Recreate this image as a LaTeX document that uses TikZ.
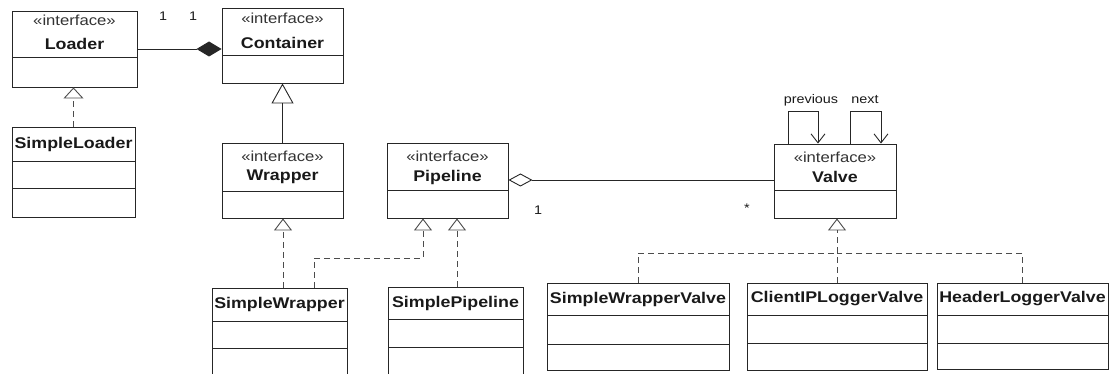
\documentclass[tikz,border=0pt]{standalone}
\usepackage{fontspec}
\setmainfont{Liberation Sans}[FakeStretch=1.15]
\usetikzlibrary{arrows.meta,fit}
\newcommand{\stereofont}{\fontsize{14.5}{15}\selectfont}
\newcommand{\namefont}{\fontsize{15.5}{16}\selectfont\bfseries}
\newcommand{\lblfont}{\fontsize{12.5}{13}\selectfont}
\tikzset{
  box/.style={draw=black!85, line width=0.9pt, inner sep=0pt},
  stereo/.style={font=\stereofont, text=black!80, inner sep=0pt},
  cname/.style={font=\namefont, text=black!90, inner sep=0pt},
  lbl/.style={font=\lblfont, text=black!90, inner sep=0pt},
  divider/.style={draw=black!85, line width=0.9pt},
  realize/.style={draw=black!70, line width=0.9pt, dash pattern=on 6pt off 4pt},
  realtip/.style={-{Triangle[open, length=12pt, width=18pt, line width=0.9pt]}},
  gentip/.style={-{Triangle[open, length=20pt, width=22pt, line width=0.9pt]}},
  assoc/.style={draw=black!85, line width=0.9pt},
}
\begin{document}
\begin{tikzpicture}[x=1pt, y=-1pt]
\useasboundingbox (0,0) rectangle (1112,374);
\clip (0,0) rectangle (1112,374);

% ---------- interface boxes ----------
\node[box, fit={(12,11) (137,87)}] (loader) {};
\draw[divider] (12,57) -- (137,57);
\node[stereo] (loaderS) at (74.5,20) {«interface»};
\node[cname] (loaderN) at (74.5,44) {Loader};

\node[box, fit={(222,8) (343,83)}] (container) {};
\draw[divider] (222,55) -- (343,55);
\node[stereo] (containerS) at (282.5,18) {«interface»};
\node[cname] (containerN) at (282.5,43) {Container};

\node[box, fit={(222,143) (343,218)}] (wrapper) {};
\draw[divider] (222,191) -- (343,191);
\node[stereo] (wrapperS) at (282.5,156) {«interface»};
\node[cname] (wrapperN) at (282.5,177) {Wrapper};

\node[box, fit={(387,143) (508,218)}] (pipeline) {};
\draw[divider] (387,190) -- (508,190);
\node[stereo] (pipelineS) at (447.5,156) {«interface»};
\node[cname] (pipelineN) at (447.5,177) {Pipeline};

\node[box, fit={(774,144) (896,218)}] (valve) {};
\draw[divider] (774,190) -- (896,190);
\node[stereo] (valveS) at (835,157) {«interface»};
\node[cname] (valveN) at (835,177) {Valve};

% ---------- classes ----------
\node[box, fit={(12,127) (135,217)}] (sloader) {};
\draw[divider] (12,161) -- (135,161);
\draw[divider] (12,188) -- (135,188);
\node[cname] (sloaderN) at (73.5,144) {SimpleLoader};

\node[box, fit={(212,288) (347,380)}] (swrap) {};
\draw[divider] (212,321) -- (347,321);
\draw[divider] (212,348) -- (347,348);
\node[cname] (swrapN) at (279.5,304) {SimpleWrapper};

\node[box, fit={(388,287) (523,380)}] (spipe) {};
\draw[divider] (388,319) -- (523,319);
\draw[divider] (388,347) -- (523,347);
\node[cname] (spipeN) at (455.5,303) {SimplePipeline};

\node[box, fit={(547,283) (729,370)}] (swv) {};
\draw[divider] (547,315) -- (729,315);
\draw[divider] (547,344) -- (729,344);
\node[cname] (swvN) at (638,299) {SimpleWrapperValve};

\node[box, fit={(747,283) (927,370)}] (cip) {};
\draw[divider] (747,315) -- (927,315);
\draw[divider] (747,343) -- (927,343);
\node[cname] (cipN) at (837,299) {ClientIPLoggerValve};

\node[box, fit={(937,283) (1108,369)}] (hlv) {};
\draw[divider] (937,315) -- (1108,315);
\draw[divider] (937,343) -- (1108,343);
\node[cname] (hlvN) at (1022.5,299) {HeaderLoggerValve};

% ---------- composition Loader - Container ----------
\draw[assoc, -{Diamond[length=25pt, width=15pt]}] (loader.east |- 0,49) -- (container.west |- 0,49);
\node[lbl] (m1) at (163,16) {1};
\node[lbl] (m2) at (193,16) {1};

% ---------- generalization Wrapper -> Container ----------
\draw[assoc, gentip] (wrapper.north) -- (container.south);

% ---------- realizations ----------
\draw[realize, -{Triangle[open, length=11pt, width=20pt, line width=0.9pt]}] (sloader.north) -- (sloader.north |- loader.south);
\draw[realize, realtip] (swrap.north -| 283,0) -- (wrapper.south -| 283,0);
\coordinate (pj) at (314,258);
\draw[realize, realtip] (swrap.north -| pj) -- (pj) -- (pj -| 423,0) -- (pipeline.south -| 423,0);
\draw[realize, realtip] (spipe.north -| 457,0) -- (pipeline.south -| 457,0);

\coordinate (vj) at (837,253);
\draw[realize, realtip] (cip.north -| vj) -- (valve.south -| vj);
\draw[realize] (swv.north) -- (swv.north |- vj) -- (vj);
\draw[realize] (hlv.north) -- (hlv.north |- vj) -- (vj);

% ---------- aggregation Pipeline - Valve ----------
\draw[assoc, {Diamond[open, length=24pt, width=13pt, line width=0.9pt]}-] (pipeline.east |- 0,180) -- (valve.west |- 0,180);
\node[lbl] (m3) at (538,210) {1};
\node[lbl] (m4) at (747,208) {*};

% ---------- self associations on Valve ----------
\draw[assoc, -{Straight Barb[length=9pt, width=14pt, line width=0.9pt]}] (valve.north -| 788,0) -- (788,111) -- (818,111) -- (valve.north -| 818,0);
\draw[assoc, -{Straight Barb[length=9pt, width=14pt, line width=0.9pt]}] (valve.north -| 850,0) -- (850,111) -- (881,111) -- (valve.north -| 881,0);
\node[lbl] (prev) at (811,100) {previous};
\node[lbl] (next) at (865,100) {next};
\end{tikzpicture}
\end{document}
